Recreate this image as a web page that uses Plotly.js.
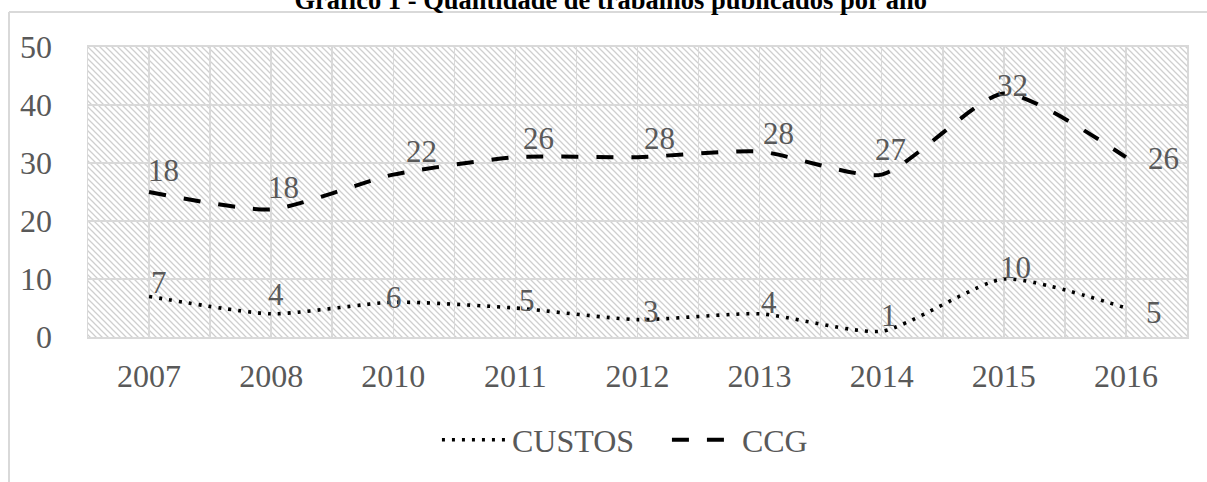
<!DOCTYPE html>
<html>
<head>
<meta charset="utf-8">
<script src="https://cdn.plot.ly/plotly-3.0.1.min.js"></script>
<style>html,body{margin:0;padding:0;background:#fff;}#chart{width:1207px;height:482px;}</style>
</head>
<body>
<div id="chart"></div>
<script>
// Data
const years = ['2007','2008','2010','2011','2012','2013','2014','2015','2016'];
const custos = [7, 4, 6, 5, 3, 4, 1, 10, 5];
const ccg = [18, 18, 22, 26, 28, 28, 27, 32, 26];
const seriesNames = ['CUSTOS', 'CCG'];
const yTicks = [0, 10, 20, 30, 40, 50];

const idx = years.map((_, i) => i);
const gray = '#595959';
const gridColor = '#d9d9d9';
const FONT = 'Liberation Serif, Times New Roman, serif';

// label offsets (pixels) relative to each point – styling only
const custosShift = [[10,14],[5,19],[1,5],[12,8],[13,8],[9,11],[7,16],[12,12],[28,-4]];
const ccgShift = [[14,22],[12,22],[28,23],[23,19],[22,19],[19,18],[9,25],[9,8],[38,-1]];

const traces = [
  {
    x: idx, y: custos, name: seriesNames[0], type: 'scatter', mode: 'lines',
    stackgroup: 'one', fill: 'none',
    line: {color: '#000', width: 3.6, dash: '3px,7px', shape: 'spline', smoothing: 0.6},
    hoverinfo: 'skip'
  },
  {
    x: idx, y: ccg, name: seriesNames[1], type: 'scatter', mode: 'lines',
    stackgroup: 'one', fill: 'none',
    line: {color: '#000', width: 4, dash: '17px,18px', shape: 'spline', smoothing: 0.6},
    hoverinfo: 'skip'
  }
];

// data labels (stacked positions, original values as text)
const annotations = [];
custos.forEach((v, i) => {
  annotations.push({x: i, y: v, xref: 'x', yref: 'y', text: String(v), showarrow: false,
    xshift: custosShift[i][0], yshift: custosShift[i][1], xanchor: 'center', yanchor: 'middle',
    font: {family: FONT, size: 31, color: gray}});
});
ccg.forEach((v, i) => {
  annotations.push({x: i, y: v + custos[i], xref: 'x', yref: 'y', text: String(v), showarrow: false,
    xshift: ccgShift[i][0], yshift: ccgShift[i][1], xanchor: 'center', yanchor: 'middle',
    font: {family: FONT, size: 31, color: gray}});
});

// hatched background pattern for the plot area
const PW = 1099, PH = 290;
const svg = `<svg xmlns="http://www.w3.org/2000/svg" width="${PW}" height="${PH}" viewBox="0 0 ${PW} ${PH}">` +
  `<defs><pattern id="h" patternUnits="userSpaceOnUse" width="6" height="6">` +
  `<path d="M-1,-1 L7,7 M-1,5 L1,7 M5,-1 L7,1" stroke="#cfcfcf" stroke-width="1.3"/></pattern></defs>` +
  `<rect width="100%" height="100%" fill="#fff"/><rect width="100%" height="100%" fill="url(#h)"/></svg>`;
const src = 'data:image/svg+xml;charset=utf-8,' + encodeURIComponent(svg);

const minorVals = [];
for (let i = 0; i <= years.length; i++) minorVals.push(i - 0.5);

const layout = {
  width: 1207, height: 482,
  margin: {l: 88, r: 20, t: 47, b: 145},
  paper_bgcolor: '#fff', plot_bgcolor: '#fff',
  showlegend: true,
  title: {
    text: '<b>Gráfico 1 - Quantidade de trabalhos publicados por ano</b>',
    font: {family: FONT, size: 26.5, color: '#000'},
    xref: 'container', x: 0.506, xanchor: 'center',
    yref: 'container', y: 1, yanchor: 'middle'
  },
  xaxis: {
    range: [-0.5, years.length - 0.5],
    tickvals: idx, ticktext: years,
    showgrid: true, gridcolor: gridColor, gridwidth: 1.5,
    minor: {tickvals: minorVals, showgrid: true, gridcolor: gridColor, gridwidth: 1.5, ticks: ''},
    showline: true, mirror: true, linecolor: gridColor, linewidth: 2,
    ticks: '', zeroline: false,
    tickfont: {family: FONT, size: 32, color: gray},
    ticklabelstandoff: 10,
    fixedrange: true
  },
  yaxis: {
    range: [0, 50], tickvals: yTicks,
    showgrid: true, gridcolor: gridColor, gridwidth: 1.5,
    showline: true, mirror: true, linecolor: gridColor, linewidth: 1.5,
    ticks: '', zeroline: false,
    tickfont: {family: FONT, size: 32, color: gray},
    ticklabelstandoff: 28,
    fixedrange: true
  },
  legend: {
    orientation: 'h', x: 0.3175, xanchor: 'left', y: -0.355, yanchor: 'middle',
    font: {family: FONT, size: 32, color: gray},
    itemwidth: 65, entrywidth: 150, traceorder: 'normal', bgcolor: 'rgba(0,0,0,0)'
  },
  annotations: annotations,
  images: [{
    source: src, xref: 'paper', yref: 'paper', x: 0, y: 1, sizex: 1, sizey: 1,
    sizing: 'stretch', xanchor: 'left', yanchor: 'top', layer: 'below'
  }],
  shapes: [
    {type: 'line', xref: 'paper', yref: 'paper', x0: -0.0719, x1: 1.03, y0: 1.1207, y1: 1.1207,
     line: {color: gridColor, width: 2}},
    {type: 'line', xref: 'paper', yref: 'paper', x0: -0.0719, x1: -0.0719, y0: 1.1207, y1: -0.55,
     line: {color: gridColor, width: 2}}
  ]
};

Plotly.newPlot('chart', traces, layout, {displayModeBar: false, staticPlot: true});
</script>
</body>
</html>
